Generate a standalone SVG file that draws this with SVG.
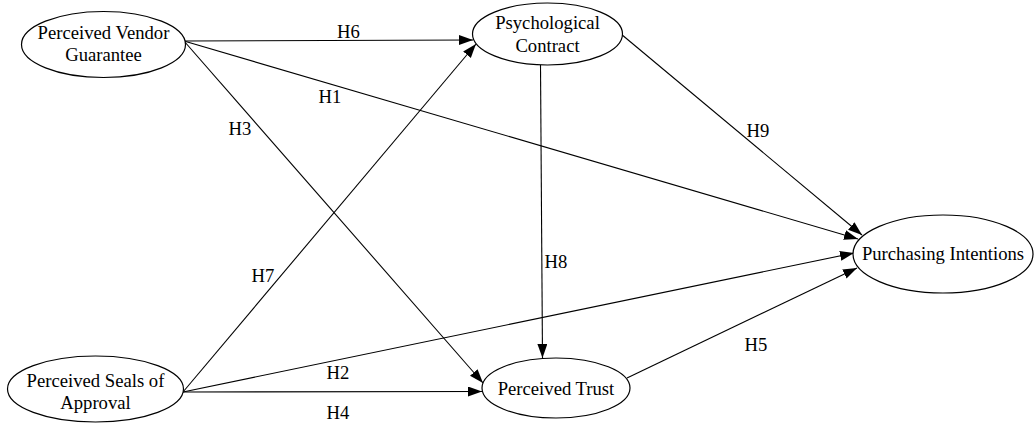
<svg xmlns="http://www.w3.org/2000/svg" width="1036" height="423" viewBox="0 0 1036 423">
<defs>
<style>
.n{fill:#fff;stroke:#000;stroke-width:1.2}
.t{font-family:"Liberation Serif","Times New Roman",serif;font-size:18.67px;fill:#000;text-anchor:middle}
.e{fill:none;stroke:#000;stroke-width:1.1;marker-end:url(#a)}
</style>
<marker id="a" markerUnits="userSpaceOnUse" markerWidth="15" markerHeight="11" refX="14" refY="5" orient="auto">
<path d="M0,0 L14,5 L0,10 z" fill="#000"/>
</marker>
</defs>
<rect width="1036" height="423" fill="#fff"/>
<g id="connectors">
<line class="e" x1="184" y1="41" x2="473" y2="40"/>
<line class="e" x1="184" y1="41" x2="858" y2="239"/>
<line class="e" x1="184" y1="41" x2="483" y2="383"/>
<line class="e" x1="183" y1="392" x2="476" y2="44"/>
<line class="e" x1="183" y1="392" x2="854" y2="253"/>
<line class="e" x1="183" y1="392" x2="482" y2="391.5"/>
<line class="e" x1="621" y1="34" x2="862" y2="235"/>
<line class="e" x1="540.5" y1="65" x2="542.5" y2="358"/>
<line class="e" x1="627" y1="378" x2="857" y2="268"/>
<text class="t" x="348.5" y="38">H6</text>
<text class="t" x="330" y="103">H1</text>
<text class="t" x="240" y="135">H3</text>
<text class="t" x="758" y="137">H9</text>
<text class="t" x="556" y="268">H8</text>
<text class="t" x="263" y="282">H7</text>
<text class="t" x="338" y="379">H2</text>
<text class="t" x="338" y="419">H4</text>
<text class="t" x="756" y="351">H5</text>
</g>
<g id="vendor">
<ellipse class="n" cx="103.5" cy="44.5" rx="82" ry="33"/>
<text class="t" x="103.5" y="39">Perceived Vendor</text>
<text class="t" x="103.5" y="61">Guarantee</text>
</g>
<g id="seals">
<ellipse class="n" cx="95.5" cy="389" rx="88" ry="33"/>
<text class="t" x="95.5" y="387">Perceived Seals of</text>
<text class="t" x="95.5" y="409">Approval</text>
</g>
<g id="contract">
<ellipse class="n" cx="547.5" cy="34" rx="75" ry="31"/>
<text class="t" x="547.5" y="29">Psychological</text>
<text class="t" x="547.5" y="52">Contract</text>
</g>
<g id="trust">
<ellipse class="n" cx="556" cy="388" rx="74" ry="30"/>
<text class="t" x="556" y="395">Perceived Trust</text>
</g>
<g id="intentions">
<ellipse class="n" cx="943" cy="254" rx="90" ry="39"/>
<text class="t" x="943" y="260">Purchasing Intentions</text>
</g>
</svg>
